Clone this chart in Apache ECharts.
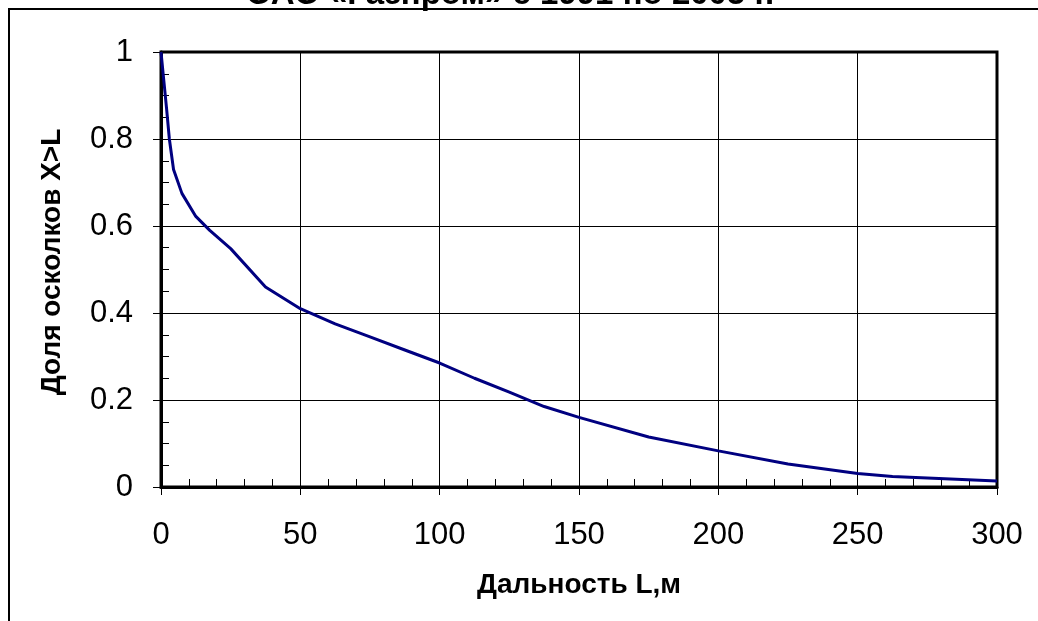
<!DOCTYPE html>
<html>
<head>
<meta charset="utf-8">
<script src="https://cdn.jsdelivr.net/npm/echarts@6/dist/echarts.min.js"></script>
<style>
  html, body { margin: 0; padding: 0; background: #fff; }
  #chart { width: 1038px; height: 621px; }
</style>
</head>
<body>
<div id="chart"></div>
<script>
// Range of fragment flight L (m) and share of fragments flying farther than L
const distance = [0, 1, 2, 3, 4.5, 7.5, 12.5, 17.5, 25, 37.5, 50, 62.5, 75, 87.5, 100, 112.5, 125, 137.5, 150, 175, 200, 225, 250, 262.5, 300];
const shareBeyond = [1.0, 0.935, 0.87, 0.80, 0.73, 0.675, 0.622, 0.59, 0.548, 0.46, 0.41, 0.375, 0.345, 0.315, 0.285, 0.25, 0.218, 0.185, 0.16, 0.115, 0.083, 0.053, 0.031, 0.024, 0.014];
const titleText = 'ОАО «Газпром» с 1991 по 2005 г.';
const xName = 'Дальность L,м';
const yName = 'Доля осколков X>L';

const FONT = '"Liberation Sans", Arial, sans-serif';
const chart = echarts.init(document.getElementById('chart'), null, { renderer: 'canvas' });

const points = distance.map((d, i) => [d, shareBeyond[i]]);

chart.setOption({
  animation: false,
  backgroundColor: '#fff',
  graphic: [
    // outer chart frame (top and left edges)
    { type: 'polyline', shape: { points: [[9, 621], [9, 9], [1038, 9]] },
      style: { stroke: '#000', lineWidth: 2, fill: null }, z: 0 },
    // title, mostly above the frame
    { type: 'text', x: 510, y: 11,
      style: { text: titleText, font: 'bold 33px ' + FONT, fill: '#000',
               textAlign: 'center', textVerticalAlign: 'bottom' } },
    // y-axis name, rotated
    { type: 'text', x: 52, y: 262, rotation: Math.PI / 2,
      style: { text: yName, font: 'bold 28px ' + FONT, fill: '#000',
               textAlign: 'center', textVerticalAlign: 'middle' } }
  ],
  grid: {
    left: 161, top: 52, right: 41, bottom: 134,
    show: true, borderColor: '#000', borderWidth: 3, backgroundColor: 'transparent'
  },
  xAxis: [
    {
      type: 'value', min: 0, max: 300, interval: 50,
      name: xName, nameLocation: 'middle', nameGap: 84,
      nameTextStyle: { fontFamily: FONT, fontWeight: 'bold', fontSize: 28, color: '#000' },
      axisLine: { show: true, lineStyle: { color: '#000', width: 3 } },
      axisTick: { show: true, inside: false, length: 8, lineStyle: { color: '#000', width: 1 } },
      axisLabel: { fontFamily: FONT, fontSize: 31, color: '#000', margin: 33 },
      splitLine: { show: true, lineStyle: { color: '#000', width: 1 } }
    },
    {
      // minor inward ticks every 10 m
      type: 'value', min: 0, max: 300, interval: 10, position: 'bottom',
      axisLine: { show: false },
      axisTick: { show: true, inside: true, length: 8, lineStyle: { color: '#000', width: 1 } },
      axisLabel: { show: false }, splitLine: { show: false }
    }
  ],
  yAxis: [
    {
      type: 'value', min: 0, max: 1, interval: 0.2,
      axisLine: { show: true, lineStyle: { color: '#000', width: 3 } },
      axisTick: { show: true, inside: false, length: 8, lineStyle: { color: '#000', width: 1 } },
      axisLabel: { fontFamily: FONT, fontSize: 31, color: '#000', margin: 28 },
      splitLine: { show: true, lineStyle: { color: '#000', width: 1 } }
    },
    {
      // minor inward ticks every 0.05
      type: 'value', min: 0, max: 1, interval: 0.05, position: 'left',
      axisLine: { show: false },
      axisTick: { show: true, inside: true, length: 8, lineStyle: { color: '#000', width: 1 } },
      axisLabel: { show: false }, splitLine: { show: false }
    }
  ],
  series: [{
    type: 'line',
    data: points,
    xAxisIndex: 0, yAxisIndex: 0,
    showSymbol: false, symbol: 'none',
    smooth: false,
    lineStyle: { color: '#000080', width: 3 },
    z: 5
  }]
});
</script>
</body>
</html>
